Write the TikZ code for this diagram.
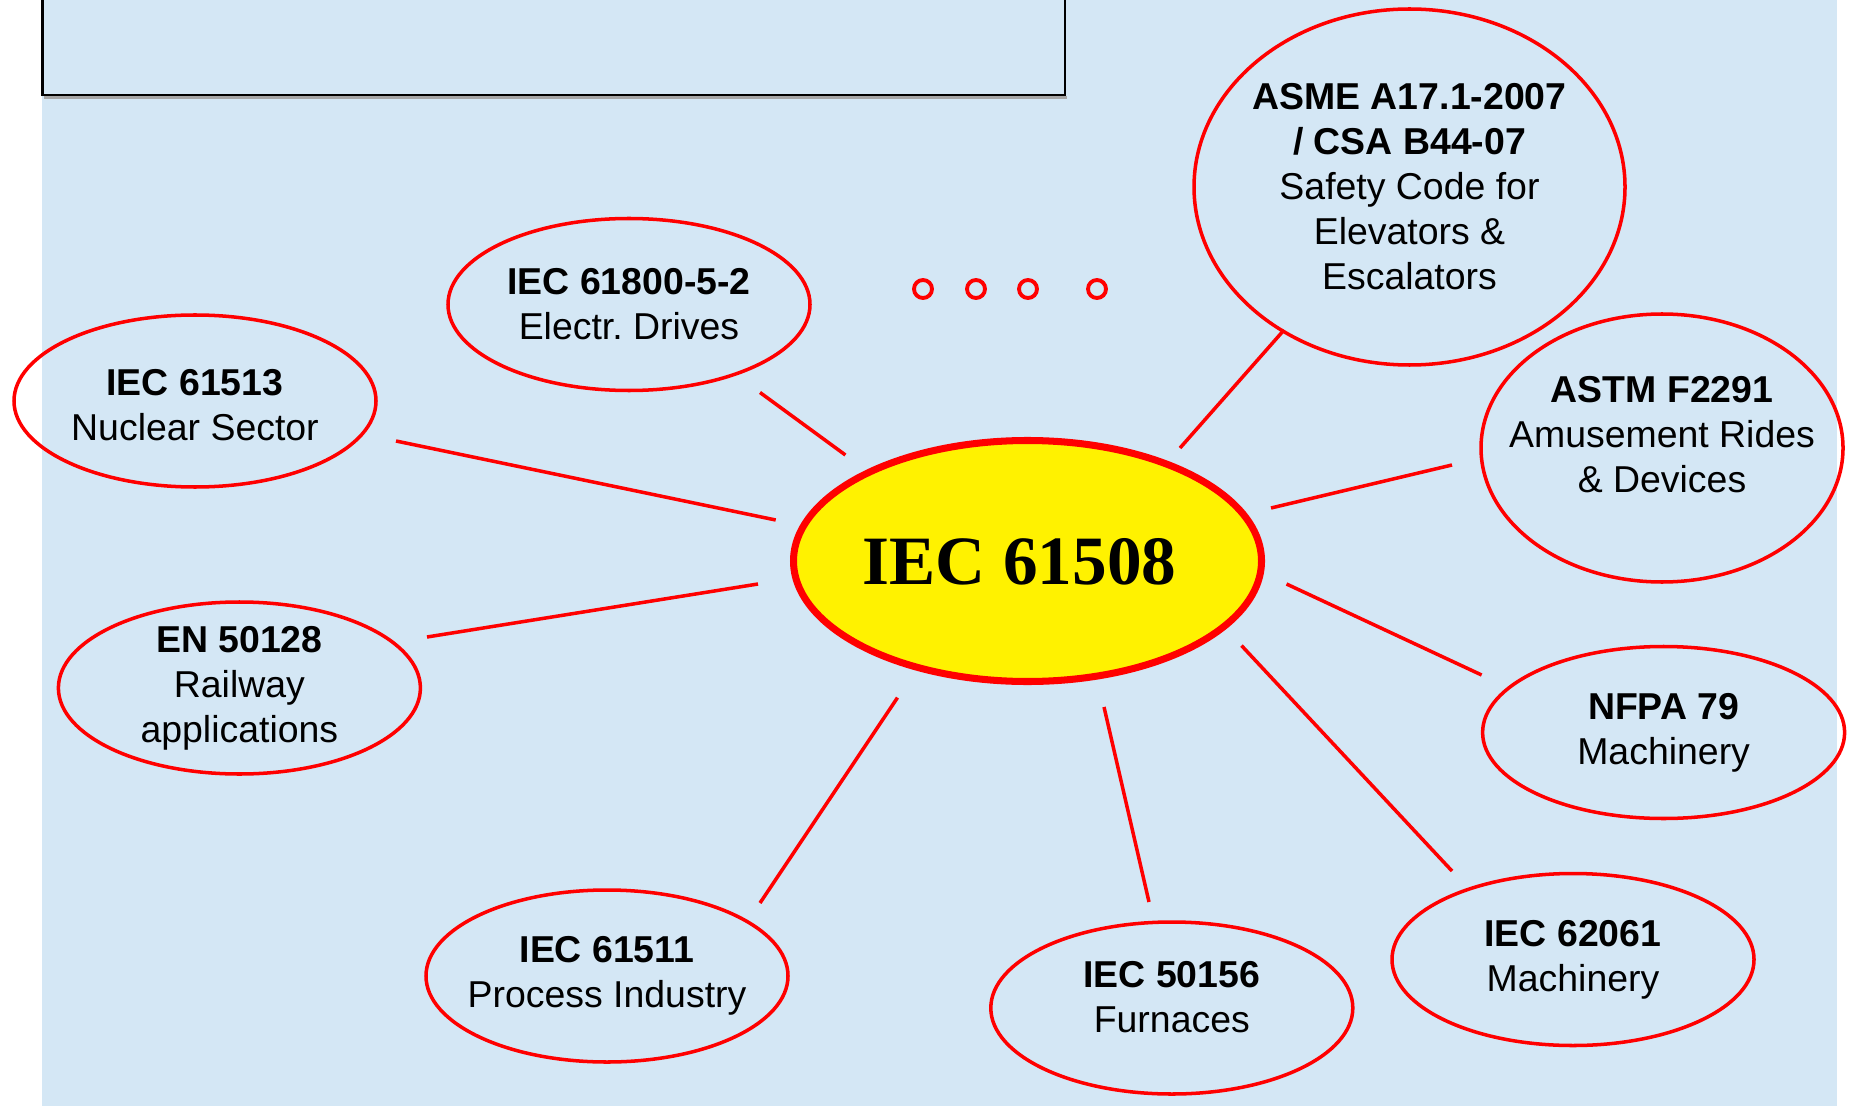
\documentclass[tikz,border=0pt]{standalone}
\usepackage{fontspec}
\setmainfont{Liberation Sans}
\newfontfamily\hubfont{Liberation Serif}
\usepackage{xcolor}
\usepackage{tikz}
\usetikzlibrary{shapes.geometric}

\definecolor{bgblue}{RGB}{212,231,245}

\tikzset{
  std/.style={ellipse, draw=red, line width=1pt, minimum width=3.62cm, minimum height=1.72cm, inner sep=0pt},
  txt/.style={align=center, font=\fontsize{10.65}{12.8}\selectfont},
  hubnode/.style={ellipse, draw=red, fill=yellow, line width=2pt, minimum width=4.68cm, minimum height=2.41cm, inner sep=0pt, font=\hubfont\bfseries\fontsize{19.7}{22}\selectfont},
  link/.style={red, line width=1pt},
  dotring/.style={circle, draw=red, line width=1.1pt, minimum size=0.18cm, inner sep=0pt}
}

\begin{document}
\begin{tikzpicture}
\useasboundingbox (0,0) rectangle (18.54,-11.06);
\fill[bgblue] (0.42,0) rectangle (18.37,-11.06);
% empty title box, cut by the top edge
\draw[gray!70, line width=0.6pt] (0.44,-0.975) -- (10.67,-0.975);
\draw[black, line width=0.6pt] (0.425,0) -- (0.425,-0.95) -- (10.65,-0.95) -- (10.65,0);

% the standard in the middle
\node[hubnode, text depth=0pt] (hub) at (10.275,-5.61) {\hspace*{-0.16cm}IEC 61508};

% sector standards
\node[std, label={[txt, yshift=-0.04cm]center:{\textbf{IEC 61513}\\Nuclear Sector}}] (nuc) at (1.95,-4.01) {};
\node[std, label={[txt]center:{\textbf{IEC 61800-5-2}\\Electr.\ Drives}}] (drv) at (6.29,-3.045) {};
\node[std, minimum width=4.31cm, minimum height=3.56cm,
      label={[txt]center:{\textbf{ASME A17.1-2007}\\\textbf{/ CSA B44-07}\\Safety Code for\\Elevators \&\\Escalators}}] (asme) at (14.095,-1.87) {};
\node[std, minimum height=2.68cm, label={[txt, yshift=0.13cm]center:{\textbf{ASTM F2291}\\Amusement Rides\\\& Devices}}] (astm) at (16.62,-4.48) {};
\node[std, label={[txt]center:{\textbf{NFPA 79}\\Machinery}}] (nfpa) at (16.636,-7.325) {};
\node[std, label={[txt]center:{\textbf{IEC 62061}\\Machinery}}] (mach) at (15.73,-9.595) {};
\node[std, label={[txt, yshift=0.11cm]center:{\textbf{IEC 50156}\\Furnaces}}] (furn) at (11.718,-10.08) {};
\node[std, label={[txt]center:{\textbf{IEC 61511}\\Process Industry}}] (proc) at (6.07,-9.76) {};
\node[std, label={[txt]center:{\textbf{EN 50128}\\Railway\\applications}}] (rail) at (2.394,-6.88) {};

% more to come
\foreach \i/\x in {1/9.23,2/9.76,3/10.28,4/10.97}
  \node[dotring] (dot\i) at (\x,-2.89) {};

% spokes, ends set off from the centres
\foreach \n/\px/\py/\qx/\qy in {nuc/2.01/-0.40/-2.518/0.41, drv/1.31/-0.88/-1.821/1.06,
    asme/-1.255/-1.43/1.525/1.13, astm/-2.10/-0.17/2.435/0.53, nfpa/-1.82/0.575/2.59/-0.23,
    mach/-1.21/0.885/2.14/-0.846, furn/-0.228/1.06/0.765/-1.46, proc/1.53/0.73/-1.30/-1.366,
    rail/1.876/0.51/-2.695/-0.23}
  \draw[link] ([shift={(\px,\py)}]\n.center) -- ([shift={(\qx,\qy)}]hub.center);
\end{tikzpicture}
\end{document}
